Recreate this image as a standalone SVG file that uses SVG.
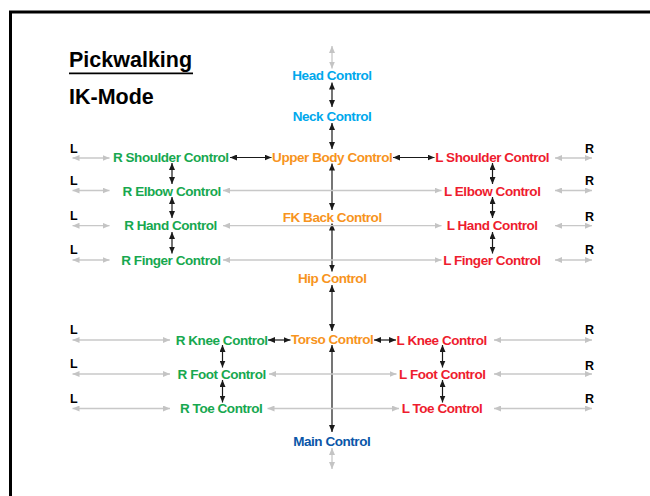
<svg xmlns="http://www.w3.org/2000/svg" width="650" height="496" viewBox="0 0 650 496">
<defs>
<marker id="ab" viewBox="0 0 7 6" refX="7" refY="3" markerWidth="7" markerHeight="6" markerUnits="userSpaceOnUse" orient="auto-start-reverse"><path d="M0,0 L7,3 L0,6 z" fill="#1a1a1a"/></marker>
<marker id="ag" viewBox="0 0 7 6" refX="7" refY="3" markerWidth="7" markerHeight="6" markerUnits="userSpaceOnUse" orient="auto-start-reverse"><path d="M0,0 L7,3 L0,6 z" fill="#c4c4c4"/></marker>
<style>
text{font-family:"Liberation Sans",Arial,sans-serif;font-weight:bold}
.n{font-size:13.5px;letter-spacing:-0.45px;text-anchor:middle}
.g{fill:#17a84f}.o{fill:#f7941d}.r{fill:#ee1c2e}.lb{fill:#00a8ec}.db{fill:#0a56a8}
.side{font-size:12.5px;fill:#000}
.k{stroke:#1a1a1a;stroke-width:1.2;fill:none;marker-start:url(#ab);marker-end:url(#ab)}
.y{stroke:#c8c8c8;stroke-width:1.3;fill:none;marker-start:url(#ag);marker-end:url(#ag)}
.t{font-size:21.5px;fill:#000}
</style>
</defs>
<rect width="650" height="496" fill="#fff"/>
<path d="M10.5,496 V12 H650" fill="none" stroke="#000" stroke-width="3"/>
<g id="title">
<text class="t" x="69" y="67">Pickwalking</text>
<line x1="69" y1="73.3" x2="193" y2="73.3" stroke="#000" stroke-width="1.8"/>
<text class="t" x="69" y="104">IK-Mode</text>
</g>
<g id="connectors">
<line class="y" x1="332" y1="46" x2="332" y2="68.5"/>
<line class="k" x1="332" y1="82.5" x2="332" y2="107"/>
<line class="k" x1="332" y1="123" x2="332" y2="149"/>
<line class="k" x1="332" y1="163.5" x2="332" y2="210"/>
<line class="k" x1="332" y1="223.5" x2="332" y2="271.5"/>
<line class="k" x1="332" y1="285" x2="332" y2="331"/>
<line class="k" x1="332" y1="345" x2="332" y2="432"/>
<line class="y" x1="332" y1="448" x2="332" y2="469"/>
<line class="k" x1="230" y1="157.5" x2="271.5" y2="157.5"/>
<line class="k" x1="393" y1="157.5" x2="434.5" y2="157.5"/>
<line class="k" x1="268" y1="340" x2="290.5" y2="340"/>
<line class="k" x1="374" y1="340" x2="396" y2="340"/>
<line class="k" x1="172" y1="163" x2="172" y2="184"/>
<line class="k" x1="172" y1="197" x2="172" y2="218"/>
<line class="k" x1="172" y1="232" x2="172" y2="253.5"/>
<line class="k" x1="492.5" y1="163" x2="492.5" y2="184"/>
<line class="k" x1="492.5" y1="197" x2="492.5" y2="218"/>
<line class="k" x1="492.5" y1="232" x2="492.5" y2="253.5"/>
<line class="k" x1="222.5" y1="345" x2="222.5" y2="367.5"/>
<line class="k" x1="222.5" y1="380" x2="222.5" y2="402.5"/>
<line class="k" x1="442.5" y1="345" x2="442.5" y2="367.5"/>
<line class="k" x1="442.5" y1="380" x2="442.5" y2="402.5"/>
<line class="y" x1="72.5" y1="158" x2="109.5" y2="158"/>
<line class="y" x1="72.5" y1="190.5" x2="109.5" y2="190.5"/>
<line class="y" x1="72.5" y1="225.7" x2="109.5" y2="225.7"/>
<line class="y" x1="72.5" y1="260" x2="109.5" y2="260"/>
<line class="y" x1="555" y1="158" x2="592" y2="158"/>
<line class="y" x1="555" y1="190.5" x2="592" y2="190.5"/>
<line class="y" x1="555" y1="225.7" x2="592" y2="225.7"/>
<line class="y" x1="555" y1="260" x2="592" y2="260"/>
<line class="y" x1="223" y1="190.5" x2="441.5" y2="190.5"/>
<line class="y" x1="223" y1="225.7" x2="441.5" y2="225.7"/>
<line class="y" x1="223" y1="260" x2="441.5" y2="260"/>
<line class="y" x1="72.5" y1="340" x2="170" y2="340"/>
<line class="y" x1="72.5" y1="374" x2="170" y2="374"/>
<line class="y" x1="72.5" y1="408.5" x2="170" y2="408.5"/>
<line class="y" x1="494" y1="340" x2="592" y2="340"/>
<line class="y" x1="494" y1="374" x2="592" y2="374"/>
<line class="y" x1="494" y1="408.5" x2="592" y2="408.5"/>
<line class="y" x1="269" y1="374" x2="396.5" y2="374"/>
<line class="y" x1="267.5" y1="408.5" x2="399" y2="408.5"/>
</g>
<g id="side-labels">
<text class="side" x="70" y="153">L</text>
<text class="side" x="70" y="184.5">L</text>
<text class="side" x="70" y="219.5">L</text>
<text class="side" x="70" y="254">L</text>
<text class="side" x="70" y="333.5">L</text>
<text class="side" x="70" y="368">L</text>
<text class="side" x="70" y="403">L</text>
<text class="side" x="585" y="153">R</text>
<text class="side" x="585" y="184.5">R</text>
<text class="side" x="585" y="220.5">R</text>
<text class="side" x="585" y="254">R</text>
<text class="side" x="585" y="333.5">R</text>
<text class="side" x="585" y="369.5">R</text>
<text class="side" x="585" y="403">R</text>
</g>
<g id="head"><text class="n lb" x="332" y="79.5">Head Control</text></g>
<g id="neck"><text class="n lb" x="332" y="120.5">Neck Control</text></g>
<g id="upper-body"><text class="n o" x="332.2" y="161.5">Upper Body Control</text></g>
<g id="r-shoulder"><text class="n g" x="170.8" y="161.5">R Shoulder Control</text></g>
<g id="l-shoulder"><text class="n r" x="492.2" y="161.5">L Shoulder Control</text></g>
<g id="r-elbow"><text class="n g" x="171.7" y="195.5">R Elbow Control</text></g>
<g id="l-elbow"><text class="n r" x="492.2" y="195.5">L Elbow Control</text></g>
<g id="fk-back"><text class="n o" x="332.2" y="221.8">FK Back Control</text></g>
<g id="r-hand"><text class="n g" x="170.5" y="230">R Hand Control</text></g>
<g id="l-hand"><text class="n r" x="492.2" y="230">L Hand Control</text></g>
<g id="r-finger"><text class="n g" x="170.9" y="264.5">R Finger Control</text></g>
<g id="l-finger"><text class="n r" x="491.9" y="264.5">L Finger Control</text></g>
<g id="hip"><text class="n o" x="332.2" y="283">Hip Control</text></g>
<g id="r-knee"><text class="n g" x="221.7" y="344.5">R Knee Control</text></g>
<g id="torso"><text class="n o" x="332.2" y="344">Torso Control</text></g>
<g id="l-knee"><text class="n r" x="441.7" y="344.5">L Knee Control</text></g>
<g id="r-foot"><text class="n g" x="221.7" y="378.5">R Foot Control</text></g>
<g id="l-foot"><text class="n r" x="442.3" y="378.5">L Foot Control</text></g>
<g id="r-toe"><text class="n g" x="221.2" y="413">R Toe Control</text></g>
<g id="l-toe"><text class="n r" x="442" y="413">L Toe Control</text></g>
<g id="main"><text class="n db" x="331.7" y="445.5">Main Control</text></g>
</svg>
